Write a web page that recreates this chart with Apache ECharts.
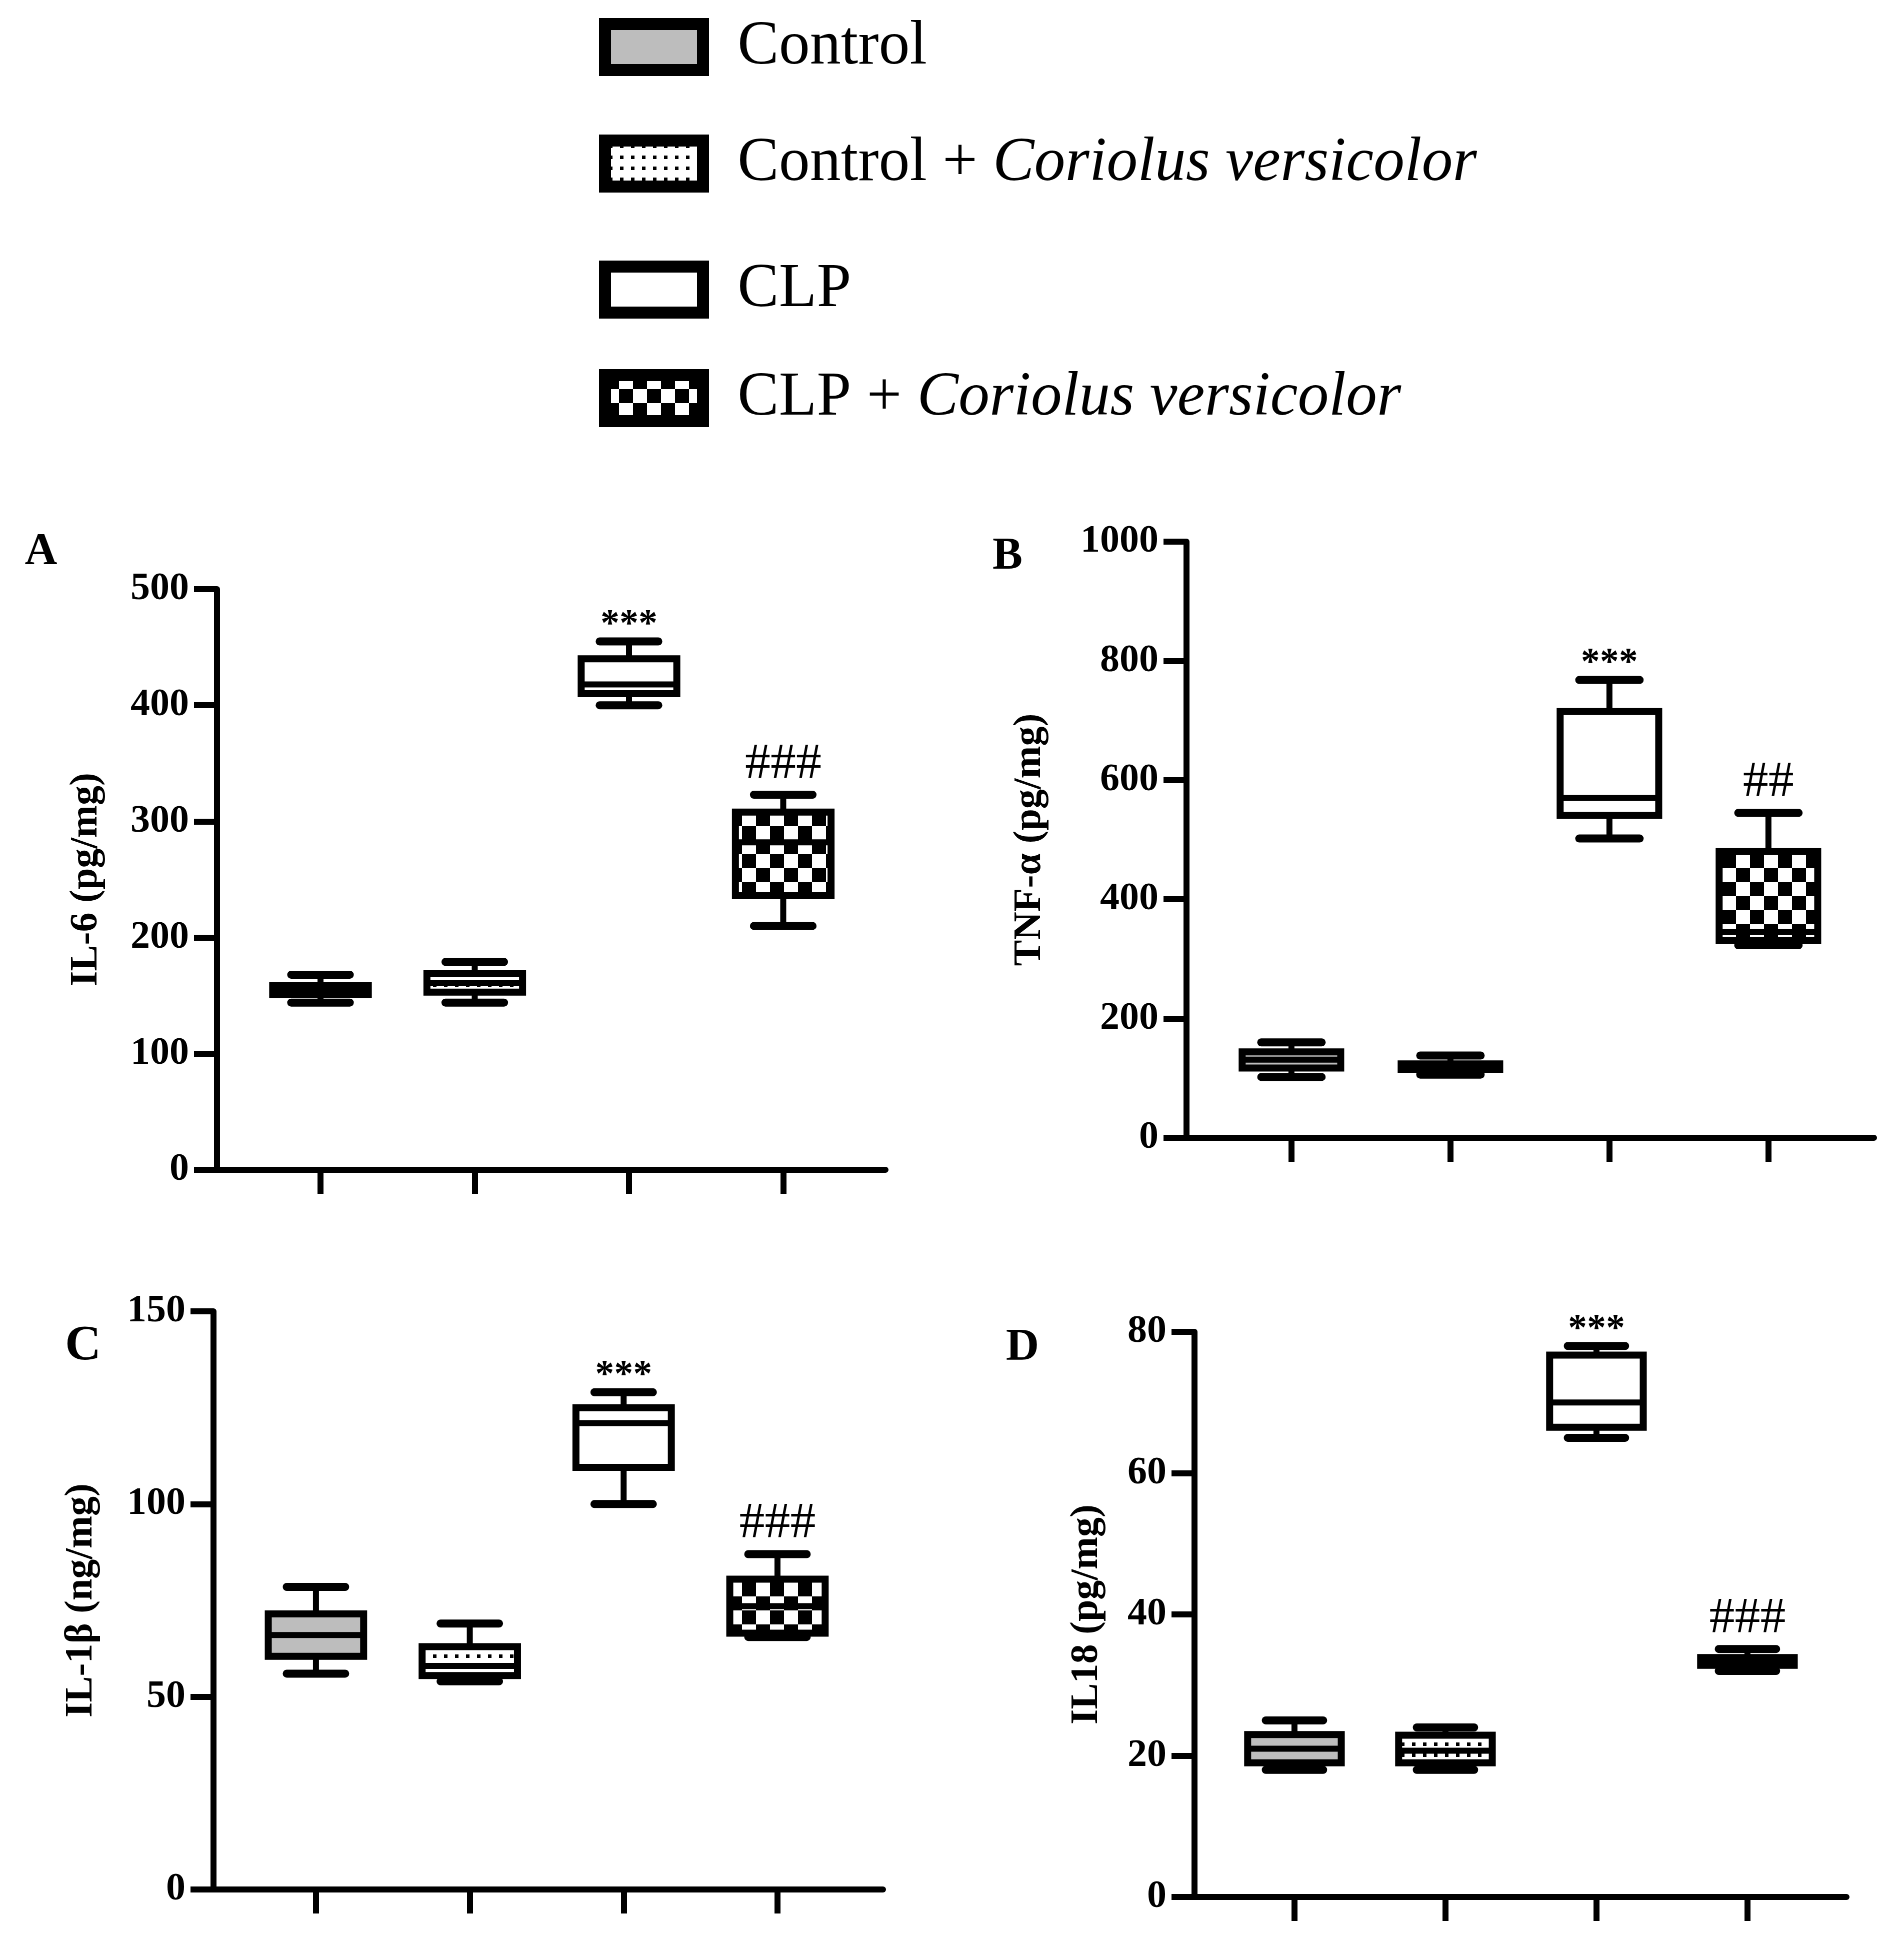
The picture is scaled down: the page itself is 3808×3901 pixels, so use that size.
<!DOCTYPE html>
<html><head><meta charset="utf-8">
<script src="https://cdn.jsdelivr.net/npm/echarts@6/dist/echarts.min.js"></script>
<style>html,body{margin:0;padding:0;background:#fff}#chart{width:3808px;height:3901px}</style>
</head><body><div id="chart"></div>
<script>
// ---------- DATA ----------
const groups = ['Control', 'Control + Coriolus versicolor', 'CLP', 'CLP + Coriolus versicolor'];
const positions = [1, 2, 3, 4];
// each box: [min, Q1, median, Q3, max]
const il6  = [[144, 151, 155, 158.5, 168], [144, 153, 161, 169, 179], [400, 410, 418, 440, 455], [210, 236, 282, 308, 323]];
const tnfa = [[102, 117, 131, 144, 160], [106, 115, 120, 124, 138], [502, 541, 570, 715, 768], [323, 331, 345, 480, 545]];
const il1b = [[56, 60.5, 66, 71.5, 78.5], [54, 55.5, 58, 63, 69], [100, 109.5, 121, 125, 129], [65.5, 66.5, 73.5, 80.5, 87]];
const il18 = [[18, 19, 21, 23, 25], [18, 19, 20.7, 22.9, 24], [65, 66.5, 70, 76.7, 78], [32, 32.8, 33.4, 33.9, 35.1]];
const sigIl6  = ['', '', '***', '###'];
const sigTnfa = ['', '', '***', '##'];
const sigIl1b = ['', '', '***', '###'];
const sigIl18 = ['', '', '***', '###'];
const yNames = ['IL-6 (pg/mg)', 'TNF-\u03b1 (pg/mg)', 'IL-1\u03b2 (ng/mg)', 'IL18 (pg/mg)'];
const yMax = [500, 1000, 150, 80];
const yStep = [100, 200, 50, 20];
const panelLetters = ['A', 'B', 'C', 'D'];

// ---------- STYLE ----------
const SERIF = 'Liberation Serif';
function makeCanvas(w, h, draw) { const c = document.createElement('canvas'); c.width = w; c.height = h; draw(c.getContext('2d')); return c; }
const dotsPat = { image: makeCanvas(22, 22, g => { g.fillStyle = '#fff'; g.fillRect(0, 0, 22, 22); g.fillStyle = '#000'; g.fillRect(8, 8, 7, 7); }), repeat: 'repeat' };
const checkPat = { image: makeCanvas(56, 56, g => { g.fillStyle = '#fff'; g.fillRect(0, 0, 56, 56); g.fillStyle = '#000'; g.fillRect(0, 0, 28, 28); g.fillRect(28, 28, 28, 28); }), repeat: 'repeat' };
const fills = ['#bdbdbd', dotsPat, '#ffffff', checkPat];

const panelLayout = [
  { grid: { left: 434, top: 1178, width: 1337, height: 1161 }, xmin: 0.329, xmax: 4.663, nameGap: 222, letter: [82, 1105, 90] },
  { grid: { left: 2373, top: 1083, width: 1375, height: 1192 }, xmin: 0.340, xmax: 4.664, nameGap: 274, letter: [2015, 1114, 90] },
  { grid: { left: 427, top: 2622, width: 1339, height: 1156 }, xmin: 0.334, xmax: 4.686, nameGap: 225, letter: [166, 2692, 100] },
  { grid: { left: 2389, top: 2663, width: 1304, height: 1130 }, xmin: 0.338, xmax: 4.656, nameGap: 176, letter: [2045, 2695, 92] }
];
const panelData = [il6, tnfa, il1b, il18];
const panelSig = [sigIl6, sigTnfa, sigIl1b, sigIl18];

const BOX_W = 0.62, CAP_W = 0.38;

function makeRender(fill, sig) {
  return function (params, api) {
    const x = api.value(0);
    const mn = api.value(1), q1 = api.value(2), md = api.value(3), q3 = api.value(4), mx = api.value(5);
    const cx = api.coord([x, md])[0];
    const y = v => api.coord([x, v])[1];
    const bw = api.size([BOX_W, 0])[0];
    const cw = api.size([CAP_W, 0])[0];
    const ln = (x1, y1, x2, y2, w, cap) => ({ type: 'line', shape: { x1, y1, x2, y2 }, style: { stroke: '#000', lineWidth: w, lineCap: cap || 'butt' } });
    const children = [
      ln(cx, y(mx), cx, y(q3), 12),
      ln(cx, y(q1), cx, y(mn), 12),
      { type: 'rect', shape: { x: cx - bw / 2, y: y(q3), width: bw, height: y(q1) - y(q3) }, style: { fill: fill, stroke: '#000', lineWidth: 14 } },
      ln(cx - bw / 2, y(md), cx + bw / 2, y(md), 12),
      ln(cx - cw / 2, y(mx), cx + cw / 2, y(mx), 16, 'round'),
      ln(cx - cw / 2, y(mn), cx + cw / 2, y(mn), 16, 'round')
    ];
    if (sig) {
      const star = sig.indexOf('*') >= 0;
      children.push({ type: 'text', x: cx, y: y(mx) - (star ? 32 : 60),
        style: { text: sig, fill: '#000', fontFamily: SERIF, fontSize: star ? 76 : 102, fontWeight: star ? 'bold' : 'normal', align: 'center', verticalAlign: 'middle' } });
    }
    return { type: 'group', children };
  };
}

const grids = [], xAxes = [], yAxes = [], series = [], graphics = [];
panelLayout.forEach((p, k) => {
  grids.push(Object.assign({ containLabel: false }, p.grid));
  xAxes.push({ type: 'value', gridIndex: k, min: p.xmin, max: p.xmax,
    axisLine: { show: true, onZero: false, lineStyle: { color: '#000', width: 12 } },
    axisTick: { show: true, customValues: positions, length: 48, lineStyle: { color: '#000', width: 12 } },
    axisLabel: { show: false }, splitLine: { show: false } });
  yAxes.push({ type: 'value', gridIndex: k, min: 0, max: yMax[k], interval: yStep[k],
    name: yNames[k], nameLocation: 'middle', nameGap: p.nameGap,
    nameTextStyle: { fontFamily: SERIF, fontWeight: 'bold', fontSize: 78, color: '#000' },
    axisLine: { show: true, lineStyle: { color: '#000', width: 12 } },
    axisTick: { show: true, length: 46, lineStyle: { color: '#000', width: 12 } },
    axisLabel: { fontFamily: SERIF, fontWeight: 'bold', fontSize: 78, color: '#000', margin: 56, formatter: v => String(v) },
    splitLine: { show: false } });
  groups.forEach((g, i) => {
    const d = panelData[k][i];
    series.push({ type: 'custom', name: g, xAxisIndex: k, yAxisIndex: k,
      itemStyle: { color: '#000' },
      renderItem: makeRender(fills[i], panelSig[k][i]),
      encode: { x: 0, y: [1, 2, 3, 4, 5] },
      data: [[positions[i]].concat(d)], silent: true, animation: false });
  });
  graphics.push({ type: 'text', x: p.letter[0], y: p.letter[1],
    style: { text: panelLetters[k], fontFamily: SERIF, fontWeight: 'bold', fontSize: p.letter[2], fill: '#000', align: 'center', verticalAlign: 'middle' } });
});

const legendCenters = [90, 323, 575, 792];
const legendFont = { fontFamily: SERIF, fontSize: 124, color: '#000' };
const legends = groups.map((g, i) => ({
  data: [g], orient: 'vertical', left: 1198, top: legendCenters[i] - 58, padding: 0,
  icon: 'rect', itemWidth: 196, itemHeight: 92, selectedMode: false,
  itemStyle: { color: fills[i], borderColor: '#000', borderWidth: 24 },
  formatter: n => {
    const parts = n.split('Coriolus versicolor');
    return '{s|}{r|' + parts[0] + '}' + (parts.length > 1 ? '{i|Coriolus versicolor}' : '');
  },
  textStyle: Object.assign({}, legendFont, {
    rich: { s: { width: 64 }, r: Object.assign({}, legendFont), i: Object.assign({ fontStyle: 'italic' }, legendFont) } })
}));

const chart = echarts.init(document.getElementById('chart'), null, { renderer: 'canvas' });
chart.setOption({
  animation: false,
  backgroundColor: '#fff',
  grid: grids, xAxis: xAxes, yAxis: yAxes,
  legend: legends,
  graphic: graphics,
  series: series
});
</script></body></html>
